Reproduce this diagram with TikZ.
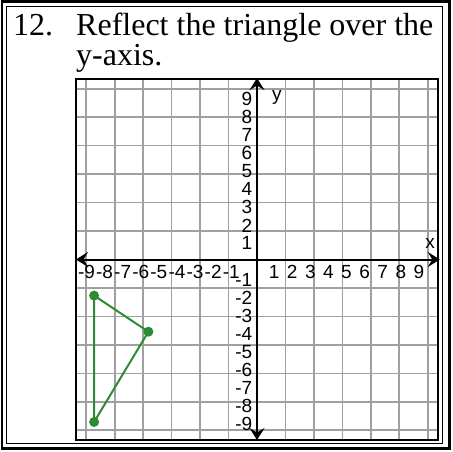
\documentclass[tikz,border=0pt]{standalone}
\usepackage{fontspec}
\setmainfont{Liberation Serif}
\newfontfamily\axfont{Liberation Sans}
\usetikzlibrary{arrows.meta}
\definecolor{gridgray}{RGB}{160,160,160}
\definecolor{tgreen}{RGB}{45,140,50}
\tikzset{
  gridline/.style={draw=gridgray, line width=1.6pt},
  boxline/.style={draw=black, line width=2pt},
  axisline/.style={draw=black, line width=2pt,
    {Stealth[length=12pt,width=15pt,inset=4.5pt]}-{Stealth[length=12pt,width=15pt,inset=4.5pt]}},
  lab/.style={inner sep=0pt, font=\axfont\fontsize{19}{19}\selectfont},
  titletext/.style={inner sep=0pt, font=\fontsize{32}{32}\selectfont},
  vdot/.style={circle, fill=tgreen, inner sep=0pt, minimum size=10pt},
  triedge/.style={draw=tgreen, line width=2pt}
}
\begin{document}
\begin{tikzpicture}[x=1pt,y=-1pt]
\useasboundingbox (0,0) rectangle (453,451);
% table borders
\draw[line width=2.5pt] (2,1.5) rectangle (449.5,448.5);
\draw[line width=1pt] (6.5,6.5) rectangle (442.5,443);
% title
\node[titletext, anchor=base west] (num) at (13,35) {12.};
\node[titletext, anchor=base west] (l1) at (76,35) {Reflect the triangle over the};
\node[titletext, anchor=base west] (l2) at (76,65) {y-axis.};
% graph
\begin{scope}[shift={(257,259.5)}, x=18.1pt, y=18.05pt]
  \draw[gridline] (-10,-10) grid (10,10);
  \draw[boxline] (-10,-10) rectangle (10,10);
  \coordinate (xl) at (-10,0);
  \coordinate (xr) at (10.1,0);
  \coordinate (yb) at (0,-10);
  \coordinate (yt) at (0,10.05);
  \draw[axisline] (xl) -- (xr);
  \draw[axisline] (yb) -- (yt);
  \foreach \i in {1,...,9} {
    \node[lab, anchor=base east, xshift=1pt, yshift=-18.5pt] (xn\i) at (-\i,0) {-\i};
    \node[lab, anchor=base, xshift=-1pt, yshift=-18.5pt] (xp\i) at (\i,0) {\i};
    \node[lab, anchor=east, xshift=-4.5pt, yshift=-2pt] (yp\i) at (0,\i) {\i};
    \node[lab, anchor=east, xshift=-4.5pt, yshift=-2.5pt] (yn\i) at (0,-\i) {-\i};
  }
  \node[vdot] (A) at (-9,-2) {};
  \node[vdot] (B) at (-6,-4) {};
  \node[vdot] (C) at (-9,-9) {};
  \draw[triedge] (A.center) -- (B.center) -- (C.center) -- cycle;
\end{scope}
\node[lab, anchor=base west] (ylab) at (272,100) {y};
\node[lab, anchor=base] (xlab) at (430,248) {x};
\end{tikzpicture}
\end{document}
